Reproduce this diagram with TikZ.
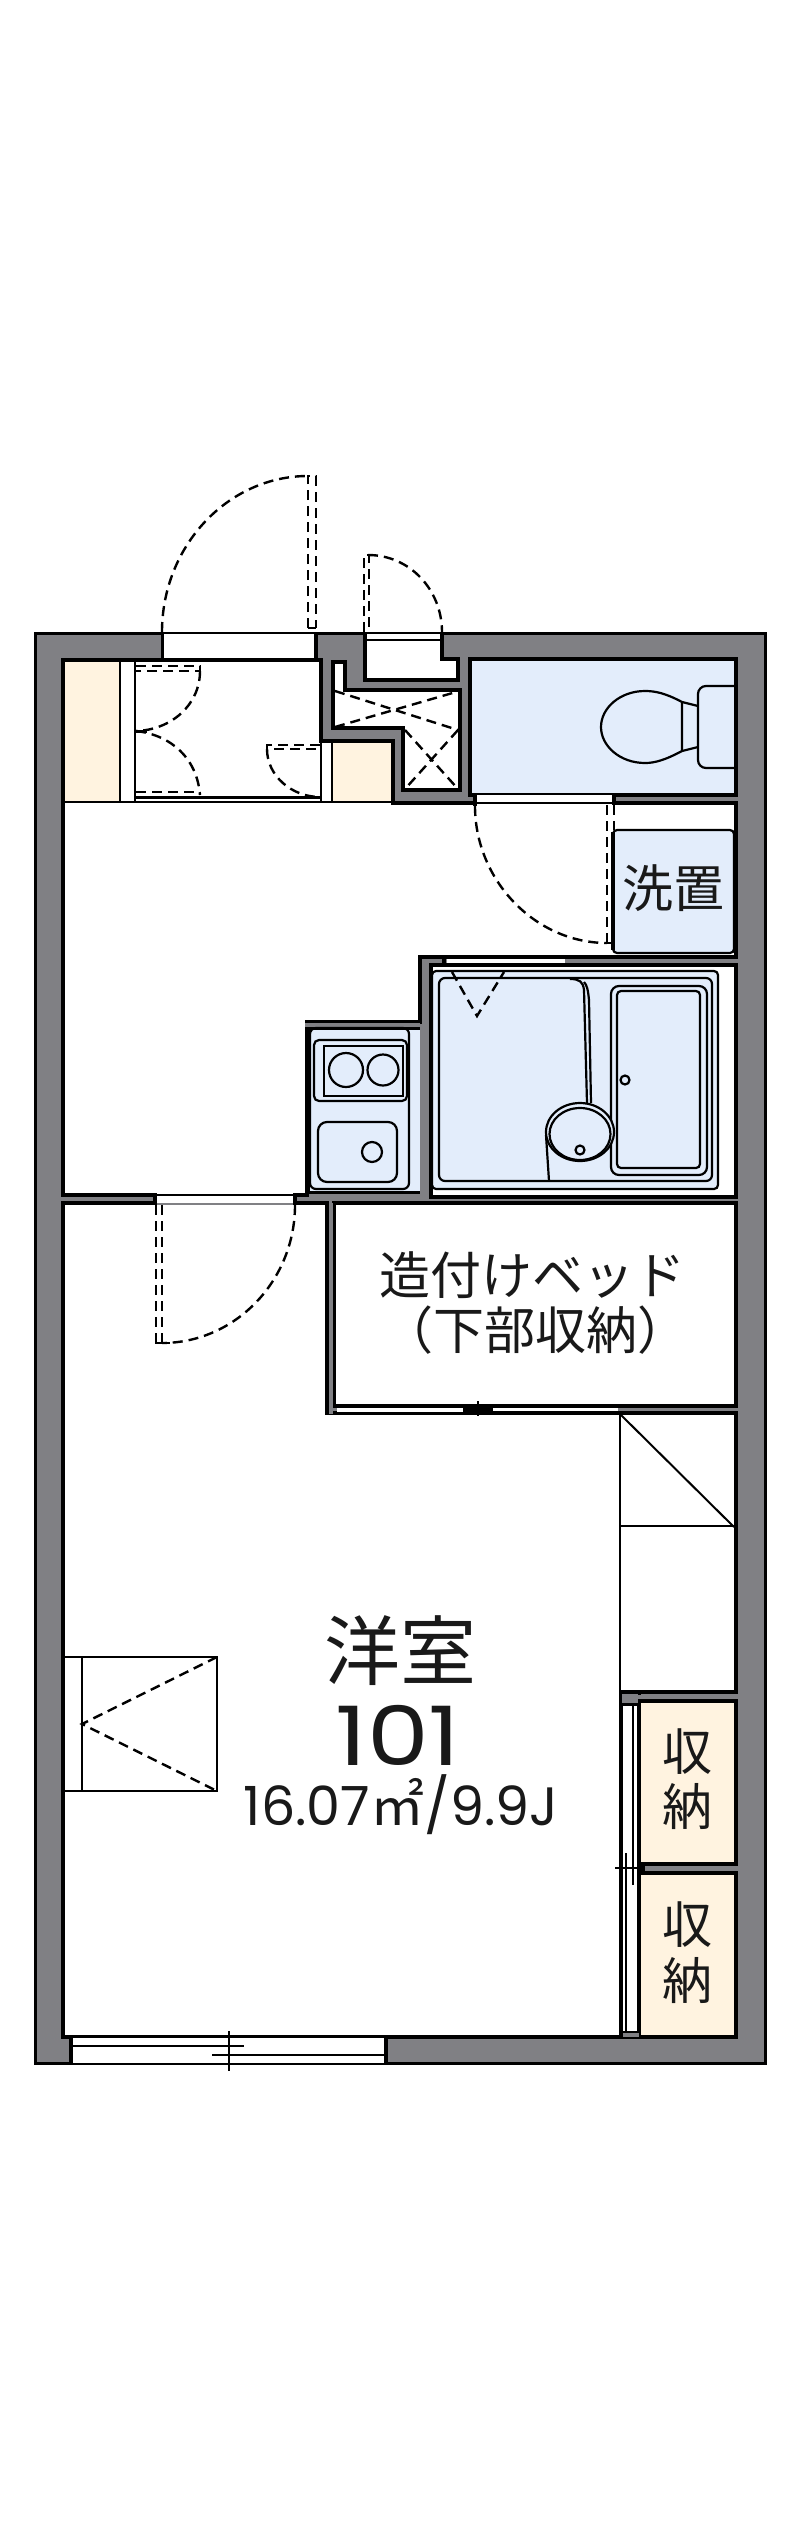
\documentclass[tikz,border=0pt]{standalone}
\usepackage{fontspec}
\setmainfont{Noto Sans CJK JP}
\newfontfamily\latfont{Poppins}
\definecolor{wallgrey}{HTML}{808084}
\definecolor{bluefill}{HTML}{E3EDFB}
\definecolor{creamfill}{HTML}{FFF3E0}
\tikzset{
  wall/.style={draw=black,line width=4pt,line join=miter},
  thin line/.style={draw=black,line width=2pt},
  fixture/.style={draw=black,line width=2.2pt},
  dashline/.style={draw=black,line width=2.4pt,dash pattern=on 10pt off 6pt},
  label/.style={inner sep=0pt,text=black!90},
}
\begin{document}
\begin{tikzpicture}[x=1pt,y=-1pt]
\useasboundingbox (0,0) rectangle (800,2539);
\fill[white] (0,0) rectangle (800,2539);
% building shell
\draw[draw=black,line width=3.5pt,fill=wallgrey] (35.5,633.5) rectangle (765.5,2063.5);
% hall and entry
\draw[wall,fill=white] (63,660) -- (321,660) -- (321,741) -- (393,741) -- (393,803) -- (736,803) -- (736,957) -- (420,957) -- (420,1022) -- (307,1022) -- (307,1195) -- (63,1195) -- cycle;
\fill[creamfill] (65,662) rectangle (120,801);
\fill[creamfill] (332,743) rectangle (391,801);
\draw[thin line] (63,802) -- (393,802);
\draw[thin line] (120,662) -- (120,802);
\draw[thin line] (135,662) -- (135,802);
\draw[thin line] (321,741) -- (321,802);
\draw[thin line] (332,741) -- (332,802);
\draw[draw=black,line width=3pt] (136,797) -- (320,797);
% entrance opening
\fill[white] (163,631) rectangle (314,658);
\draw[thin line] (162,632.5) -- (316,632.5);
\draw[thin line] (162,659) -- (316,659);
\draw[draw=black,line width=3pt] (162,632) -- (162,660);
\draw[wall] (316,632) -- (316,660);
% entrance door
\draw[dashline] (162,632) .. controls (162,546) and (228,476) .. (308,476);
\draw[dashline] (308,628) -- (308,476) -- (316,476) -- (316,628);
\draw[thin line] (308,628) -- (316,628);
% recess with outside door
\draw[wall,fill=white] (365,632) -- (365,680) -- (458,680) -- (458,659) -- (442,659) -- (442,632);
\fill[white] (367,631) rectangle (440,641);
\draw[thin line] (365,632.5) -- (442,632.5);
\draw[thin line] (365,639.5) -- (442,639.5);
\draw[dashline] (368,555) .. controls (410,555) and (442,590) .. (442,632);
\draw[dashline] (364,632) -- (364,555) -- (369,555) -- (369,632);
% service shaft
\draw[wall,fill=white] (333,662) -- (345,662) -- (345,690) -- (460,690) -- (460,790) -- (403,790) -- (403,728) -- (333,728) -- cycle;
\draw[dashline] (335,691) -- (458,730);
\draw[dashline] (335,727) -- (456,692);
\draw[dashline] (405,730) -- (458,789);
\draw[dashline] (458,730) -- (405,789);
% inner doors of the entry
\draw[dashline] (136,666) -- (200,666) -- (200,671) -- (136,671);
\draw[dashline] (200,671) .. controls (200,705) and (171,730) .. (136,731);
\draw[draw=black,line width=3pt] (135,731) -- (147,731);
\draw[dashline] (136,731) .. controls (171,735) and (197,758) .. (200,795);
\draw[dashline] (136,792) -- (200,792);
\draw[dashline] (320,745) -- (267,745) -- (267,749) -- (320,749);
\draw[dashline] (267,749) .. controls (267,776) and (292,797) .. (320,797);
% toilet
\draw[wall,fill=bluefill] (470,659) rectangle (736,795);
\draw[fixture] (682,702) .. controls (665,693) and (655,691) .. (645,691) .. controls (620,691) and (601,708) .. (601,727) .. controls (601,746) and (620,763) .. (645,763) .. controls (655,763) and (665,760) .. (682,751) -- cycle;
\draw[fixture] (682,702) -- (698,706);
\draw[fixture] (682,751) -- (698,747);
\draw[fixture,rounded corners=8pt] (734,686) -- (698,686) -- (698,768) -- (734,768);
\fill[white] (476,794) rectangle (612,805);
\draw[thin line] (475,794) -- (612,794);
\draw[thin line] (475,803) -- (612,803);
\draw[wall] (475,794) -- (475,806);
\draw[wall] (614,794) -- (614,803);
% washer place
\draw[fixture,fill=bluefill,rounded corners=4pt] (613,830) rectangle (734,953);
\draw[draw=black,line width=3.5pt] (613,832) -- (613,950);
\draw[dashline] (475,806) .. controls (475,880) and (535,943) .. (607,943);
\draw[dashline] (607,805) -- (607,943);
\draw[dashline] (614,805) -- (614,830);
\draw[thin line] (607,943) -- (613,943);
\node[label,font=\fontsize{51}{51}\selectfont] (washer) at (673,888) {洗置};
% kitchen
\fill[bluefill] (308,1029) rectangle (420,1192);
\draw[thin line] (305,1022) -- (420,1022);
\draw[draw=wallgrey,line width=4pt] (305,1024.5) -- (420,1024.5);
\draw[draw=black,line width=3pt] (305,1028) -- (420,1028);
\draw[draw=black,line width=3pt] (308.5,1028) -- (308.5,1192);
\draw[draw=black,line width=3pt] (305,1192) -- (420,1192);
\draw[fixture,rounded corners=6pt] (310,1028) rectangle (409,1189);
\draw[fixture,rounded corners=5pt] (314,1040) rectangle (407,1101);
\draw[fixture] (324,1046) rectangle (403,1096);
\draw[fixture] (346,1070) circle (17);
\draw[fixture] (383,1070) circle (15.5);
\draw[fixture,rounded corners=9pt] (318,1122) rectangle (397,1182);
\draw[fixture] (372,1152) circle (10);
% bathroom
\draw[wall,fill=white] (430.5,965) rectangle (736,1196.5);
\draw[fixture,fill=bluefill,rounded corners=4pt] (432,971) rectangle (718,1189);
\draw[fixture,rounded corners=6pt] (439,978) rectangle (712,1181);
\draw[fixture,rounded corners=8pt] (611,986) rectangle (707,1175);
\draw[fixture,rounded corners=4pt] (617,991) rectangle (700,1168);
\draw[fixture] (625,1080) circle (4.5);
\draw[fixture] (570,979) .. controls (580,979) and (583,982) .. (584,990) -- (587,1103);
\draw[fixture] (584,982) .. controls (587,985) and (588,990) .. (589,1000) -- (591,1103);
\draw[fixture] (549,1181) -- (546,1135);
\draw[fixture,fill=bluefill] (580,1132) ellipse (34 and 29);
\draw[fixture] (580,1134) ellipse (30.5 and 26);
\draw[fixture] (580,1150) circle (4.5);
\draw[dashline] (452,972) -- (477,1016) -- (504,972);
\fill[white] (447,958.5) rectangle (565,963);
\draw[wall] (444,955) -- (444,964);
% lower room with closet
\draw[wall,fill=white] (63,1203) -- (327,1203) -- (327,1412.5) -- (736,1412.5) -- (736,1692) -- (621,1692) -- (621,2037) -- (63,2037) -- cycle;
\fill[wallgrey] (65,1198) rectangle (153,1201);
% opening between hall and room
\fill[white] (157,1193) rectangle (295,1206);
\draw[thin line] (155,1195) -- (295,1195);
\draw[draw=wallgrey,line width=2pt] (155,1203.5) -- (295,1203.5);
\draw[wall] (155,1193) -- (155,1205);
\draw[wall] (295,1193) -- (295,1205);
\draw[dashline] (295,1205) .. controls (295,1281) and (235,1343) .. (162,1343);
\draw[dashline] (156,1205) -- (156,1343);
\draw[dashline] (162,1205) -- (162,1343);
\draw[thin line] (155,1343) -- (170,1343);
% built-in bed
\draw[wall,fill=white] (334,1203) rectangle (736,1405.5);
\fill[white] (337,1408) rectangle (463,1412);
\draw[thin line] (327,1413.5) -- (463,1413.5);
\fill[white] (493,1407.5) rectangle (618,1410.5);
\fill[black] (463,1403.5) rectangle (493,1414.5);
\draw[thin line] (478,1401) -- (478,1416);
\fill[wallgrey] (329,1414) rectangle (333,1203);
\node[label,font=\fontsize{51}{51}\selectfont] (bedA) at (532,1275) {造付けベッド};
\node[label,font=\fontsize{51}{51}\selectfont] (bedB) at (535,1330) {（下部収納）};
% closet diagonal
\draw[thin line] (620,1413) -- (620,1692);
\draw[thin line] (620,1414) -- (734,1527);
\draw[thin line] (620,1526) -- (734,1526);
% storage units
\draw[wall,fill=creamfill] (639,1701) rectangle (736,1863.5);
\draw[wall,fill=creamfill] (639,1873) rectangle (736,2037);
\fill[white] (623,1703) rectangle (637,2031);
\draw[draw=black,line width=3pt,fill=wallgrey] (620,1692) rectangle (639,1704);
\fill[wallgrey] (622,1695) rectangle (736,1699);
\draw[draw=black,line width=2pt,fill=wallgrey] (622,2032) rectangle (640,2038);
\draw[thin line] (633,1704) -- (633,1885);
\draw[thin line] (626,1853) -- (626,2032);
\draw[thin line] (615,1868) -- (640,1868);
\fill[black] (637,1863) rectangle (645,1873);
\node[label,font=\fontsize{50}{50}\selectfont] (storeA) at (687,1752) {収};
\node[label,font=\fontsize{50}{50}\selectfont] (storeB) at (687,1807) {納};
\node[label,font=\fontsize{50}{50}\selectfont] (storeC) at (687,1925) {収};
\node[label,font=\fontsize{50}{50}\selectfont] (storeD) at (687,1980) {納};
% balcony window
\fill[white] (73,2036) rectangle (384,2066);
\draw[thin line] (71,2037) -- (386,2037);
\draw[wall] (71,2037) -- (71,2065);
\draw[wall] (386,2035) -- (386,2065);
\draw[thin line] (71,2064) -- (386,2064);
\draw[thin line] (72,2046) -- (244,2046);
\draw[thin line] (212,2055) -- (386,2055);
\draw[thin line] (229,2031) -- (229,2071);
% fixture on the left wall of the room
\draw[thin line] (65,1657) -- (217,1657) -- (217,1791) -- (65,1791);
\draw[thin line] (82,1657) -- (82,1791);
\draw[dashline] (217,1657) -- (82,1724) -- (217,1791);
% room labels
\node[label,font=\fontsize{76}{76}\selectfont] (room) at (400,1651) {洋室};
\node[label,font=\fontsize{82}{82}\selectfont\latfont,xscale=1.2,transform shape] (num) at (398,1735) {101};
\node[label,font=\fontsize{54}{54}\selectfont\latfont] (area) at (401,1805) {16.07{\fontspec{Noto Sans CJK JP}㎡}/9.9J};
\end{tikzpicture}
\end{document}
